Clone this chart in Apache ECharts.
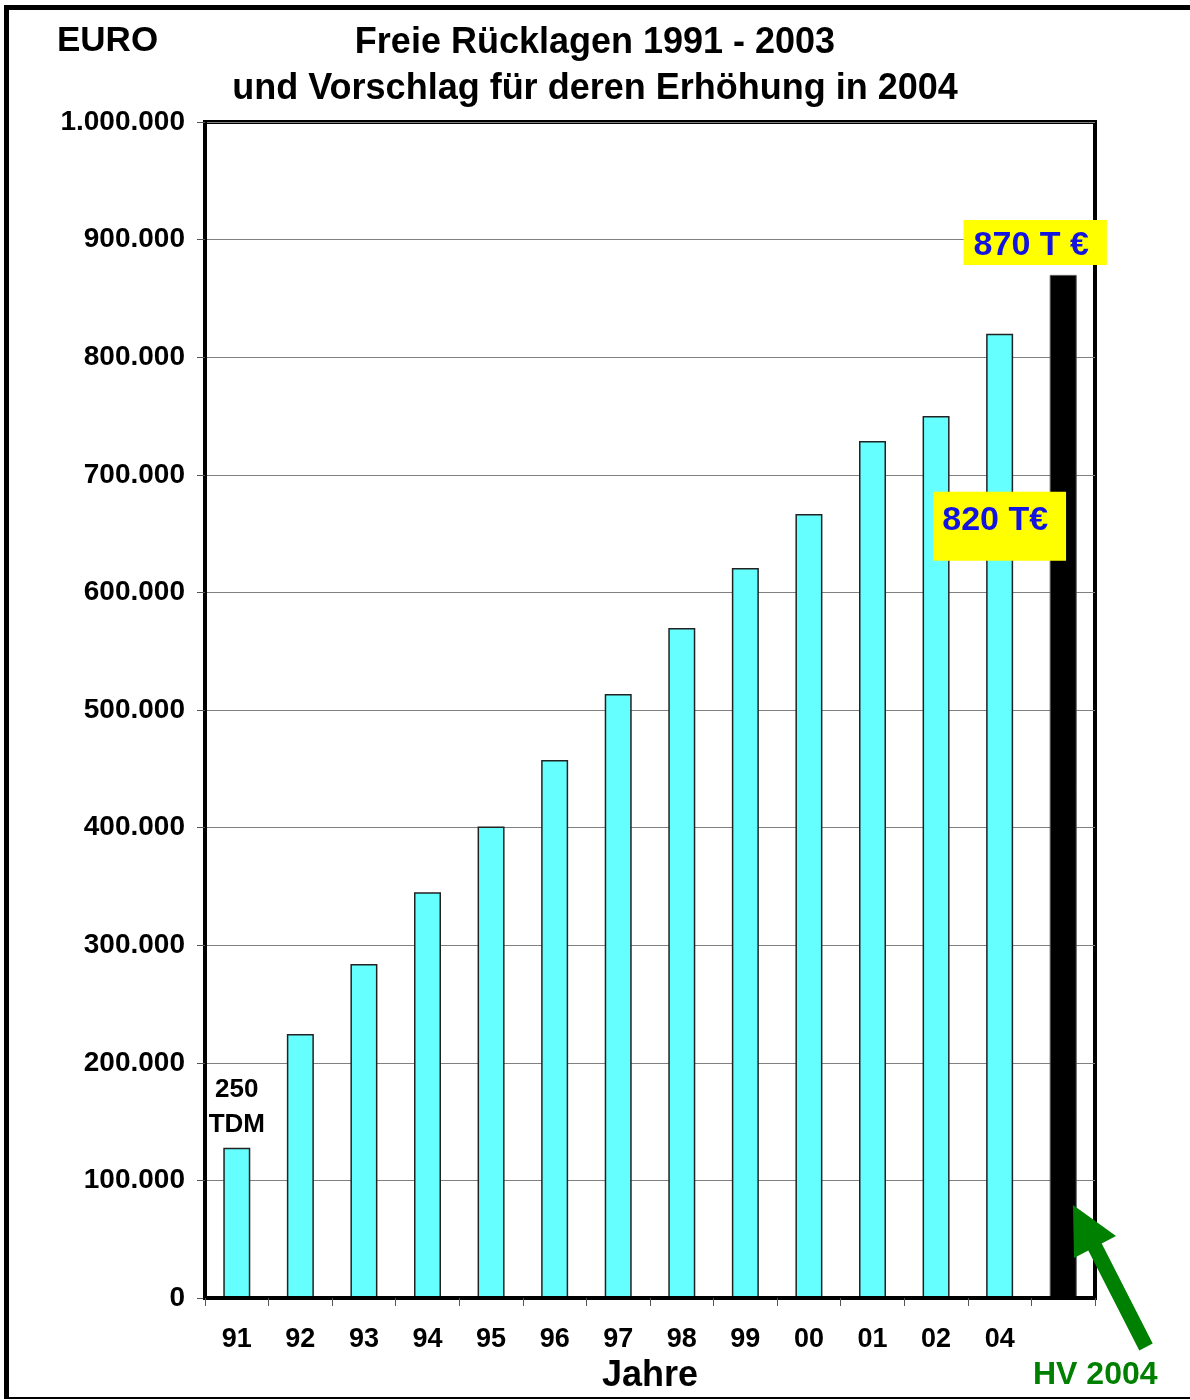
<!DOCTYPE html>
<html>
<head>
<meta charset="utf-8">
<script src="https://cdn.jsdelivr.net/npm/echarts@6/dist/echarts.min.js"></script>
<style>
  html, body { margin: 0; padding: 0; background: #fff; }
  #chart { width: 1190px; height: 1400px; }
</style>
</head>
<body>
<div id="chart"></div>
<script>
// Freie Rücklagen je Jahr (EUR); der erste Wert entspricht 250 TDM
const years = ['91', '92', '93', '94', '95', '96', '97', '98', '99', '00', '01', '02', '04'];
const reserves = [127823, 224500, 284000, 345000, 401000, 457500, 513600, 569700, 620700, 666700, 728700, 750000, 820000];
// Vorschlag der Erhöhung zur HV 2004
const proposal2004 = 870000;
const yMin = 0;
const yMax = 1000000;
const yStep = 100000;
const DM_PER_EUR = 1.95583;

const FONT = "'Liberation Sans', Arial, Helvetica, sans-serif";
const BLUE = '#1414E0';
const YELLOW = '#FFFF00';
const GREEN = '#008000';

function germanThousands(v) {
  return String(v).replace(/\B(?=(\d{3})+(?!\d))/g, '.');
}

const categories = years.concat(['']);

const barData = reserves.map(function (v, i) {
  const item = { value: v };
  if (i === 0) {
    item.label = {
      show: true,
      position: 'top',
      distance: 5,
      formatter: function (p) { return Math.round(p.value * DM_PER_EUR / 1000) + '\nTDM'; },
      fontFamily: FONT, fontWeight: 'bold', fontSize: 26, lineHeight: 35, color: '#000'
    };
  }
  if (i === reserves.length - 1) {
    item.label = {
      show: true,
      position: 'insideTop',
      distance: 5,
      offset: [0, 153],
      formatter: function (p) { return (p.value / 1000) + ' T€'; },
      fontFamily: FONT, fontWeight: 'bold', fontSize: 34, lineHeight: 34,
      color: BLUE, backgroundColor: YELLOW, padding: [12, 18, 23, 9]
    };
  }
  return item;
});

barData.push({
  value: proposal2004,
  itemStyle: { color: '#000', borderColor: '#555', borderWidth: 1 },
  label: {
    show: true,
    position: 'top',
    distance: 10,
    offset: [-28, 0],
    formatter: function (p) { return (p.value / 1000) + ' T €'; },
    fontFamily: FONT, fontWeight: 'bold', fontSize: 34, lineHeight: 34,
    color: BLUE, backgroundColor: YELLOW, padding: [9, 18, 2, 10]
  }
});

const chart = echarts.init(document.getElementById('chart'), null, { renderer: 'canvas' });

chart.setOption({
  backgroundColor: '#fff',
  animation: false,
  title: {
    text: 'Freie Rücklagen 1991 - 2003\nund Vorschlag für deren Erhöhung in 2004',
    left: 'center',
    top: 15,
    textStyle: {
      fontFamily: FONT, fontWeight: 'bold', fontSize: 36, lineHeight: 46, color: '#000'
    }
  },
  grid: {
    left: 205, right: 95, top: 122, bottom: 102,
    show: true, borderColor: '#000', borderWidth: 4, backgroundColor: 'transparent'
  },
  xAxis: {
    type: 'category',
    data: categories,
    z: 10,
    boundaryGap: true,
    name: 'Jahre',
    nameLocation: 'middle',
    nameGap: 55,
    nameTextStyle: { fontFamily: FONT, fontWeight: 'bold', fontSize: 36, color: '#000' },
    axisLine: { show: true, lineStyle: { color: '#000', width: 4 } },
    axisTick: { show: true, alignWithLabel: false, inside: false, length: 8, lineStyle: { color: '#555', width: 1 } },
    axisLabel: { margin: 28, fontFamily: FONT, fontWeight: 'bold', fontSize: 27, color: '#000', interval: 0 },
    splitLine: { show: false }
  },
  yAxis: {
    type: 'value',
    min: yMin, max: yMax, interval: yStep,
    axisLine: { show: true, lineStyle: { color: '#000', width: 4 } },
    axisTick: { show: true, inside: false, length: 8, lineStyle: { color: '#555', width: 1 } },
    axisLabel: {
      margin: 20, fontFamily: FONT, fontWeight: 'bold', fontSize: 28, color: '#000',
      padding: [5, 0, 0, 0],
      formatter: germanThousands
    },
    splitLine: { show: true, lineStyle: { color: '#808080', width: 1 } }
  },
  series: [{
    type: 'bar',
    data: barData,
    barWidth: 27,
    itemStyle: { color: '#66FFFF', borderColor: '#222', borderWidth: 1.5 },
    label: { show: false }
  }],
  graphic: [
    // outer frame
    { type: 'rect', shape: { x: 4, y: 5, width: 5, height: 1394 }, style: { fill: '#000' }, z: 100 },
    { type: 'rect', shape: { x: 4, y: 5, width: 1186, height: 5 }, style: { fill: '#000' }, z: 100 },
    { type: 'rect', shape: { x: 4, y: 1397, width: 1186, height: 2 }, style: { fill: '#000' }, z: 100 },
    // unit label
    {
      type: 'text', left: 57, top: 24, z: 100,
      style: { text: 'EURO', fontFamily: FONT, fontWeight: 'bold', fontSize: 35, fill: '#000' }
    },
    // arrow pointing at the proposed value
    {
      type: 'polygon', z: 100,
      shape: { points: [[1073, 1205], [1116, 1236], [1101.7, 1243.6], [1152.7, 1343.6], [1139.3, 1350.4], [1088.3, 1250.4], [1074, 1258]] },
      style: { fill: GREEN }
    },
    {
      type: 'text', left: 1033, top: 1359, z: 100,
      style: { text: 'HV 2004', fontFamily: FONT, fontWeight: 'bold', fontSize: 32, fill: GREEN }
    }
  ]
});
</script>
</body>
</html>
